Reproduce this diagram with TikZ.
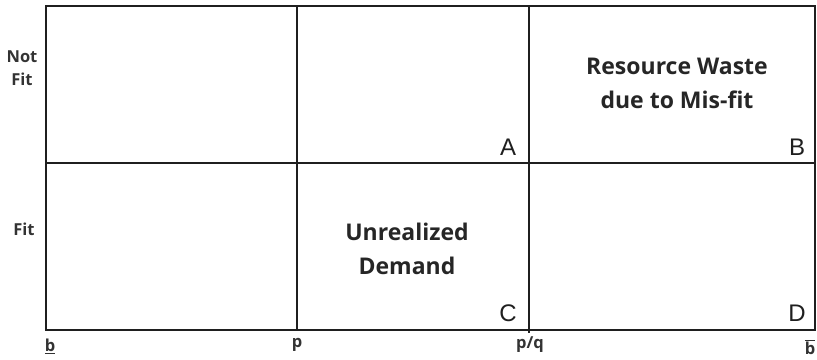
\documentclass[tikz,border=0pt]{standalone}
\usepackage{fontspec}
\setmainfont{Open Sans}
\newfontfamily\letterfont{Liberation Sans}
\begin{document}
\begin{tikzpicture}[x=1pt,y=-1pt,
  gridline/.style={line width=2.6pt,draw=black!88},
  celltext/.style={font=\fontsize{23}{34}\selectfont\bfseries,text=black!85,align=center},
  corner/.style={font=\letterfont\fontsize{24}{24}\selectfont,text=black!88},
  axislabel/.style={font=\fontsize{16.5}{23}\selectfont\bfseries,text=black!80,align=center}]
\useasboundingbox (0,0) rectangle (817,359);
% grid corners and crossing points
\coordinate (tl) at (46,6);
\coordinate (br) at (815,330);
\coordinate (pt) at (297,6);
\coordinate (pb) at (297,330);
\coordinate (qt) at (529,6);
\coordinate (qb) at (529,333);
\coordinate (ml) at (46,163);
\coordinate (mr) at (815,163);
% the two-by-three grid
\draw[gridline] (tl) rectangle (br);
\draw[gridline] (pt) -- (pb);
\draw[gridline] (qt) -- (qb);
\draw[gridline] (ml) -- (mr);
% row labels
\node[axislabel] (notfit) at (22,68) {Not\\Fit};
\node[axislabel] (fit) at (24,229) {Fit};
% column labels along the bottom
\node[axislabel,inner sep=0pt] (blow) at (50,346) {\underline{b}};
\node[axislabel] (p) at (297,345) {p};
\node[axislabel] (pq) at (530,345) {p/q};
\node[axislabel,inner sep=0pt] (bhigh) at (810,347) {$\overline{\hbox{b}}$};
% cell letters
\node[corner] (A) at (508,147) {A};
\node[corner] (B) at (797,147) {B};
\node[corner] (C) at (508,313) {C};
\node[corner] (D) at (797,313) {D};
% cell captions
\node[celltext] (waste) at (677,83) {Resource Waste\\due to Mis-fit};
\node[celltext] (demand) at (407,249) {Unrealized\\Demand};
\end{tikzpicture}
\end{document}
